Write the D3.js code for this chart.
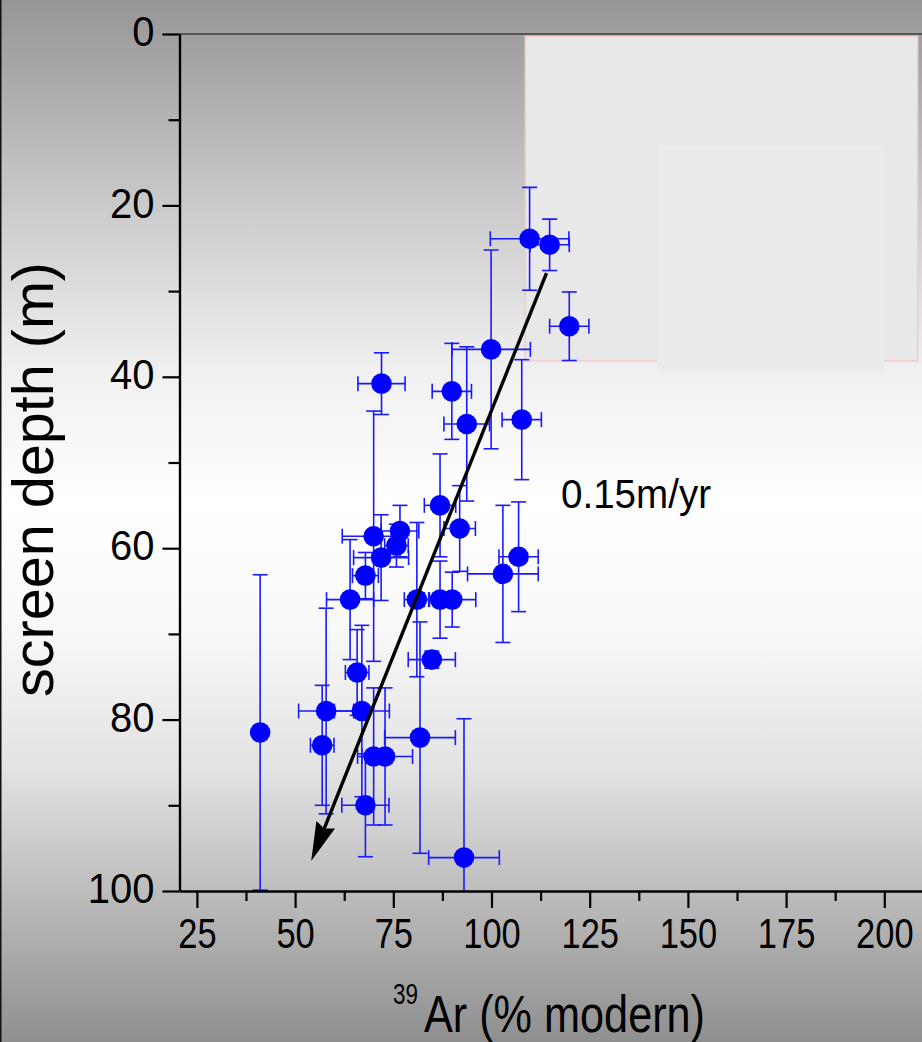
<!DOCTYPE html>
<html>
<head>
<meta charset="utf-8">
<script src="https://cdn.jsdelivr.net/npm/d3@7"></script>
<style>
  html, body { margin: 0; padding: 0; background: #fff; }
  svg { display: block; }
  text { font-family: "Liberation Sans", Arial, Helvetica, sans-serif; fill: #000; }
</style>
</head>
<body>
<svg id="chart" width="922" height="1042"></svg>
<script>
// 39Ar activity (% modern) against well screen depth (m), with 1-sigma errors
const ar39     = [109.7, 114.8, 119.8, 99.9, 72.0, 89.9, 93.7, 107.7, 86.9, 91.9,
                  70.0, 76.7, 75.8, 71.9, 67.9, 102.9, 106.9, 64.0, 81.0, 86.9,
                  90.0, 84.8, 65.8, 57.9, 67.0, 41.1, 81.8, 56.9, 70.0, 72.9,
                  67.9, 93.0];
const ar39Err  = [10, 5, 5, 10, 6, 5, 5.8, 5, 4, 4,
                  8, 4.8, 3, 7, 3.3, 9, 5, 6, 3.2, 4,
                  6, 6, 3, 7, 7, 0, 9, 3, 3, 7,
                  6, 9];
const depth    = [23.9, 24.6, 34.1, 36.8, 40.8, 41.7, 45.5, 45.0, 55.0, 57.7,
                  58.6, 58.0, 59.7, 61.1, 63.2, 63.0, 61.0, 66.0, 66.0, 66.0,
                  66.0, 73.0, 74.5, 79.0, 79.0, 81.5, 82.1, 83.0, 84.3, 84.3,
                  90.0, 96.1];
const depthErr = [6, 3, 4, 11.6, 3.6, 5.6, 9, 7, 6, 5,
                  14.6, 3, 2.5, 5, 2.7, 8, 6.4, 7, 9, 4.5,
                  3.2, 1, 5, 12, 10, 18.4, 13.5, 7, 8, 8,
                  6, 16.2];

const xTicks = [25, 50, 75, 100, 125, 150, 175, 200];
const xMinorTicks = [37.5, 62.5, 87.5, 112.5, 137.5, 162.5, 187.5];
const yTicks = [0, 20, 40, 60, 80, 100];
const yMinorTicks = [10, 30, 50, 70, 90];

// downward trend of 39Ar with depth
const trendFrom = [114.0, 27.9];
const trendTo   = [54.1, 96.5];
const trendLabel = "0.15m/yr";

const xTitleSup = "39";
const xTitle = "Ar (% modern)";
const yTitle = "screen depth (m)";

// shaded panels in the upper right of the plot
const panelOuter = {x0: 108.6, x1: 208.5, y0: 0.25, y1: 38.15};
const panelInner = {x0: 142.2, x1: 200.0, y0: 12.95, y1: 39.4};

const W = 922, H = 1042;
const svg = d3.select("#chart");

const x = d3.scaleLinear().domain([20.57, 209.6]).range([179.5, 922]);
const y = d3.scaleLinear().domain([0, 100]).range([34, 891]);

// background: grey - white - grey vertical gradient
const defs = svg.append("defs");
const bg = defs.append("linearGradient").attr("id", "bg")
  .attr("x1", 0).attr("y1", 0).attr("x2", 0).attr("y2", 1);
[[0.00, "#969696"], [0.20, "#cbcbcb"], [0.35, "#efefef"], [0.48, "#ffffff"],
 [0.60, "#f9f9f9"], [0.74, "#e2e2e2"], [0.855, "#bdbdbd"], [1.00, "#8f8f8f"]]
  .forEach(([o, c]) => bg.append("stop").attr("offset", o).attr("stop-color", c));
svg.append("rect").attr("width", W).attr("height", H).attr("fill", "url(#bg)");
svg.append("line").attr("x1", 0.75).attr("x2", 0.75).attr("y1", 0).attr("y2", H)
  .attr("stroke", "#111").attr("stroke-width", 1.5);

defs.append("clipPath").attr("id", "plot").append("rect")
  .attr("x", x.range()[0]).attr("y", y.range()[0])
  .attr("width", x.range()[1] - x.range()[0]).attr("height", y.range()[1] - y.range()[0]);

// panels
svg.append("rect")
  .attr("x", x(panelOuter.x0)).attr("y", y(panelOuter.y0))
  .attr("width", x(panelOuter.x1) - x(panelOuter.x0))
  .attr("height", y(panelOuter.y1) - y(panelOuter.y0))
  .attr("fill", "#e8e8e8").attr("stroke", "#f6caca").attr("stroke-width", 1.5);
svg.append("rect")
  .attr("x", x(panelInner.x0)).attr("y", y(panelInner.y0))
  .attr("width", x(panelInner.x1) - x(panelInner.x0))
  .attr("height", y(panelInner.y1) - y(panelInner.y0))
  .attr("fill", "#ebebeb");

// top frame line
svg.append("line").attr("x1", x.range()[0]).attr("x2", W)
  .attr("y1", y(0)).attr("y2", y(0)).attr("stroke", "#3c3c3c").attr("stroke-width", 1.3);

// error bars
const pts = ar39.map((v, i) => ({x: v, xe: ar39Err[i], y: depth[i], ye: depthErr[i]}));
const capHalf = 7.5;
const errG = svg.append("g").attr("clip-path", "url(#plot)")
  .attr("stroke", "#1a1aff").attr("stroke-width", 1.6).attr("fill", "none");
pts.forEach(p => {
  const g = errG.append("g");
  if (p.ye > 0) {
    g.append("line").attr("x1", x(p.x)).attr("x2", x(p.x))
      .attr("y1", y(p.y - p.ye)).attr("y2", y(p.y + p.ye));
    [p.y - p.ye, p.y + p.ye].forEach(v => g.append("line")
      .attr("x1", x(p.x) - capHalf).attr("x2", x(p.x) + capHalf)
      .attr("y1", y(v)).attr("y2", y(v)));
  }
  if (p.xe > 0) {
    g.append("line").attr("x1", x(p.x - p.xe)).attr("x2", x(p.x + p.xe))
      .attr("y1", y(p.y)).attr("y2", y(p.y));
    [p.x - p.xe, p.x + p.xe].forEach(v => g.append("line")
      .attr("x1", x(v)).attr("x2", x(v))
      .attr("y1", y(p.y) - capHalf).attr("y2", y(p.y) + capHalf));
  }
});

// data points
svg.append("g").selectAll("circle").data(pts).join("circle")
  .attr("cx", d => x(d.x)).attr("cy", d => y(d.y)).attr("r", 10.3)
  .attr("fill", "#0000ff");

// trend arrow
const x1 = x(trendFrom[0]), y1 = y(trendFrom[1]);
const x2 = x(trendTo[0]), y2 = y(trendTo[1]);
const len = Math.hypot(x2 - x1, y2 - y1);
const ux = (x2 - x1) / len, uy = (y2 - y1) / len;
const headLen = 39, headHalf = 10;
const bx = x2 - ux * headLen, by = y2 - uy * headLen;
svg.append("line").attr("x1", x1).attr("y1", y1)
  .attr("x2", bx + ux * 4).attr("y2", by + uy * 4)
  .attr("stroke", "#000").attr("stroke-width", 3.4);
svg.append("path")
  .attr("d", `M${x2},${y2}L${bx - uy * headHalf},${by + ux * headHalf}L${bx + ux * 4},${by + uy * 4}L${bx + uy * headHalf},${by - ux * headHalf}Z`)
  .attr("fill", "#000");

svg.append("text").attr("x", 561).attr("y", 508)
  .attr("font-size", 40).attr("textLength", 150).attr("lengthAdjust", "spacingAndGlyphs")
  .text(trendLabel);

// axes
const xAxis = svg.append("g").attr("transform", `translate(0,${y(100)})`)
  .call(d3.axisBottom(x).tickValues(xTicks).tickSize(17).tickSizeOuter(0).tickPadding(10));
svg.append("g").attr("transform", `translate(0,${y(100)})`)
  .call(d3.axisBottom(x).tickValues(xMinorTicks).tickSize(10).tickSizeOuter(0).tickFormat(""));
const yAxis = svg.append("g").attr("transform", `translate(${x.range()[0]},0)`)
  .call(d3.axisLeft(y).tickValues(yTicks).tickSize(17).tickSizeOuter(0).tickPadding(8));
svg.append("g").attr("transform", `translate(${x.range()[0]},0)`)
  .call(d3.axisLeft(y).tickValues(yMinorTicks).tickSize(11).tickSizeOuter(0).tickFormat(""));

svg.selectAll(".domain").attr("stroke", "#000").attr("stroke-width", 2.2);
svg.selectAll(".tick line").attr("stroke", "#000").attr("stroke-width", 2.2);

// tick numbers use a slightly condensed face
function condense(sel, k) {
  sel.attr("lengthAdjust", "spacingAndGlyphs")
     .attr("textLength", function () { return this.getComputedTextLength() * k; });
}
xAxis.selectAll(".tick text").attr("font-size", 42)
  .attr("font-family", "'Liberation Sans', Arial, sans-serif").attr("fill", "#000")
  .call(condense, 0.82);
yAxis.selectAll(".tick text").attr("font-size", 43).attr("dy", "0.27em")
  .attr("font-family", "'Liberation Sans', Arial, sans-serif").attr("fill", "#000")
  .call(condense, 0.93);

// axis titles
svg.append("text").attr("x", 393).attr("y", 1004).attr("font-size", 29)
  .attr("textLength", 25).attr("lengthAdjust", "spacingAndGlyphs").text(xTitleSup);
svg.append("text").attr("x", 424).attr("y", 1032).attr("font-size", 52)
  .attr("textLength", 281).attr("lengthAdjust", "spacingAndGlyphs").text(xTitle);
svg.append("text").attr("transform", "translate(53,479.5) rotate(-90)")
  .attr("text-anchor", "middle").attr("font-size", 57)
  .attr("textLength", 435).attr("lengthAdjust", "spacingAndGlyphs").text(yTitle);
</script>
</body>
</html>
